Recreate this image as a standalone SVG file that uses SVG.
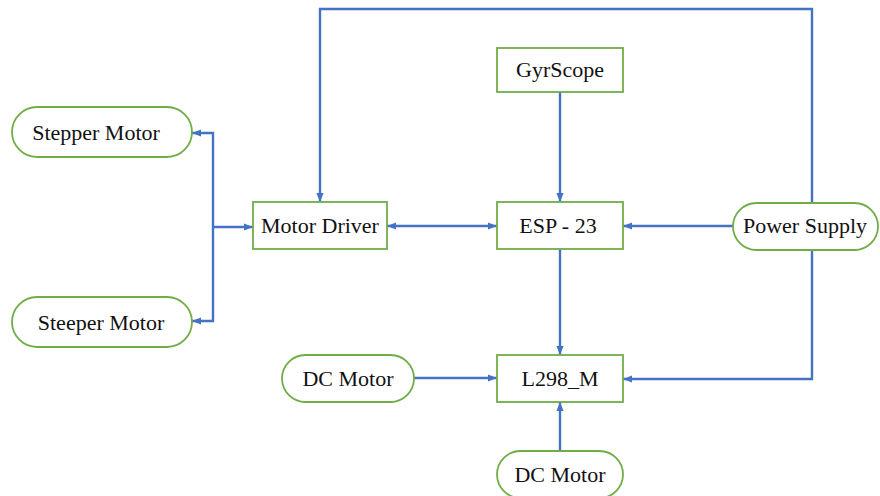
<svg xmlns="http://www.w3.org/2000/svg" width="880" height="496" viewBox="0 0 880 496">
  <style>
    .node { fill: #ffffff; stroke: #70AD47; stroke-width: 1.8; }
    .lbl { font-family: "Liberation Serif", "Times New Roman", serif; font-size: 22px; fill: #111111; text-anchor: middle; }
    .conn { fill: none; stroke: #4472C4; stroke-width: 2.4; }
  </style>
  <defs>
    <marker id="arr" viewBox="0 0 10 10" refX="10" refY="5" markerWidth="9" markerHeight="9" markerUnits="userSpaceOnUse" orient="auto-start-reverse">
      <path d="M0,1 L10,5 L0,9 z" fill="#4472C4"/>
    </marker>
  </defs>
  <rect width="880" height="496" fill="#ffffff"/>

  <g id="connectors">
    <path class="conn" d="M213,227 H253" marker-end="url(#arr)"/>
    <path class="conn" d="M213,227 V133 H192" marker-end="url(#arr)"/>
    <path class="conn" d="M213,227 V321 H192" marker-end="url(#arr)"/>
    <path class="conn" d="M387,226 H497" marker-start="url(#arr)" marker-end="url(#arr)"/>
    <path class="conn" d="M560,92 V202" marker-end="url(#arr)"/>
    <path class="conn" d="M733,226 H623" marker-end="url(#arr)"/>
    <path class="conn" d="M812,203 V9 H320 V202" marker-end="url(#arr)"/>
    <path class="conn" d="M560,249 V355" marker-end="url(#arr)"/>
    <path class="conn" d="M812,250 V379 H623" marker-end="url(#arr)"/>
    <path class="conn" d="M414,378 H497" marker-end="url(#arr)"/>
    <path class="conn" d="M560,451 V402" marker-end="url(#arr)"/>
  </g>

  <g id="stepper-motor">
    <rect class="node" x="12" y="107" width="180" height="50" rx="25" ry="25"/>
    <text class="lbl" x="96" y="140">Stepper Motor</text>
  </g>
  <g id="steeper-motor">
    <rect class="node" x="12" y="297" width="180" height="50" rx="25" ry="25"/>
    <text class="lbl" x="101" y="330">Steeper Motor</text>
  </g>
  <g id="motor-driver">
    <rect class="node" x="253" y="202" width="134" height="47"/>
    <text class="lbl" x="320" y="233">Motor Driver</text>
  </g>
  <g id="esp-23">
    <rect class="node" x="497" y="202" width="126" height="47"/>
    <text class="lbl" x="558" y="233">ESP - 23</text>
  </g>
  <g id="gyrscope">
    <rect class="node" x="497" y="48" width="126" height="44"/>
    <text class="lbl" x="560" y="77">GyrScope</text>
  </g>
  <g id="power-supply">
    <rect class="node" x="733" y="203" width="145" height="47" rx="23.5" ry="23.5"/>
    <text class="lbl" x="805" y="233">Power Supply</text>
  </g>
  <g id="l298-m">
    <rect class="node" x="497" y="355" width="126" height="47"/>
    <text class="lbl" x="560" y="386">L298_M</text>
  </g>
  <g id="dc-motor-left">
    <rect class="node" x="282" y="355" width="132" height="47" rx="23.5" ry="23.5"/>
    <text class="lbl" x="348" y="386">DC Motor</text>
  </g>
  <g id="dc-motor-bottom">
    <rect class="node" x="497" y="451" width="126" height="47" rx="23.5" ry="23.5"/>
    <text class="lbl" x="560" y="482">DC Motor</text>
  </g>
</svg>
